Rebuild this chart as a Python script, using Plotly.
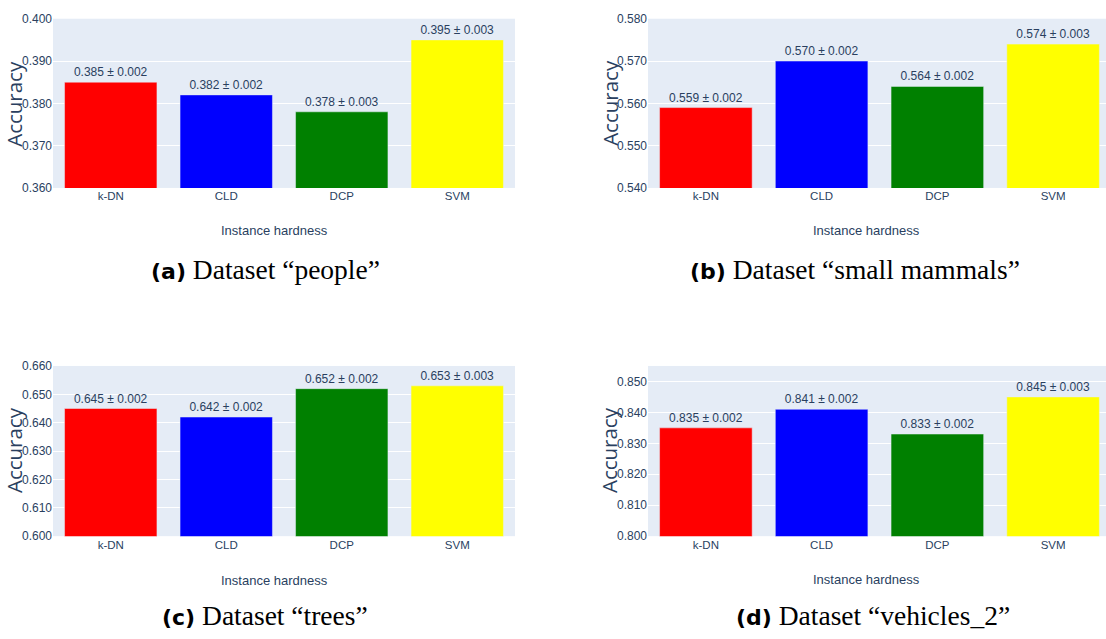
import plotly.graph_objects as go
from plotly.subplots import make_subplots

W, H = 1106, 639

methods = ["k-DN", "CLD", "DCP", "SVM"]
bar_colors = ["red", "blue", "green", "yellow"]

people_acc = [0.385, 0.382, 0.378, 0.395]
people_err = [0.002, 0.002, 0.003, 0.003]
mammals_acc = [0.559, 0.570, 0.564, 0.574]
mammals_err = [0.002, 0.002, 0.002, 0.003]
trees_acc = [0.645, 0.642, 0.652, 0.653]
trees_err = [0.002, 0.002, 0.002, 0.003]
vehicles_acc = [0.835, 0.841, 0.833, 0.845]
vehicles_err = [0.002, 0.002, 0.002, 0.003]

y_ranges = [[0.36, 0.40], [0.54, 0.58], [0.60, 0.66], [0.80, 0.855]]
captions = [("(a)", "Dataset “people”"),
            ("(b)", "Dataset “small mammals”"),
            ("(c)", "Dataset “trees”"),
            ("(d)", "Dataset “vehicles_2”")]

panels = [(people_acc, people_err), (mammals_acc, mammals_err),
          (trees_acc, trees_err), (vehicles_acc, vehicles_err)]

SANS = "Liberation Sans, Arial, sans-serif"
INK = "#2a3f5f"

# pixel boxes of the four plot areas: (left, right, top, bottom)
boxes = [(53, 515, 12, 185), (648, 1106, 12, 185),
         (53, 515, 367, 541), (648, 1106, 367, 541)]
x_ranges = [[-0.5, 3.5], [-0.5, 3.457], [-0.5, 3.5], [-0.5, 3.457]]
caption_pos = [(265, 268), (855, 268), (265, 622), (873, 622)]
xtitle_pos = [(274, 229), (866, 229), (274, 586), (866, 585)]
ytitle_pos = [(14, 99), (610, 98), (14, 453), (609, 453)]

fig = make_subplots(rows=2, cols=2)

annotations = []
for i, (acc, err) in enumerate(panels):
    r, c = i // 2 + 1, i % 2 + 1
    labels = [f"{a:.3f} ± {e:.3f}" for a, e in zip(acc, err)]
    fig.add_trace(go.Bar(
        x=methods, y=acc, marker_color=bar_colors,
        text=labels, textposition="outside", cliponaxis=False,
        textfont=dict(family=SANS, size=12, color=INK),
        showlegend=False,
    ), row=r, col=c)

    left, right, top, bottom = boxes[i]
    sfx = "" if i == 0 else str(i + 1)
    fig.layout["xaxis" + sfx].update(
        domain=[left / W, min(right / W, 1.0)], range=x_ranges[i],
        tickfont=dict(family=SANS, size=11.5, color=INK), showgrid=False)
    fig.layout["yaxis" + sfx].update(
        domain=[1 - bottom / H, 1 - top / H], range=y_ranges[i],
        dtick=0.01, tick0=0, tickformat=".3f",
        tickfont=dict(family=SANS, size=12, color=INK),
        gridcolor="white", zeroline=False)

    cx, cy = xtitle_pos[i]
    annotations.append(dict(x=cx / W, y=1 - cy / H, xref="paper", yref="paper",
                            xanchor="center", yanchor="middle",
                            text="Instance hardness", showarrow=False,
                            font=dict(family=SANS, size=13, color=INK)))
    tx, ty = ytitle_pos[i]
    annotations.append(dict(x=tx / W, y=1 - ty / H, xref="paper", yref="paper",
                            xanchor="center", yanchor="middle",
                            text="Accuracy", textangle=-90, showarrow=False,
                            font=dict(family="Open Sans, sans-serif", size=20.5, color=INK)))
    px, py = caption_pos[i]
    tag, name = captions[i]
    annotations.append(dict(
        x=px / W, y=1 - py / H, xref="paper", yref="paper",
        xanchor="center", yanchor="middle", showarrow=False,
        text=f"<span style='font-family:DejaVu Sans;font-size:22px'><b>{tag}</b></span> {name}",
        font=dict(family="Liberation Serif, serif", size=27.5, color="black")))

fig.update_layout(
    template="plotly",
    width=W, height=H,
    margin=dict(l=0, r=0, t=0, b=0),
    paper_bgcolor="white",
    plot_bgcolor="#E5ECF6",
    bargap=0.2,
    annotations=annotations,
)

fig.write_html("out.html")
